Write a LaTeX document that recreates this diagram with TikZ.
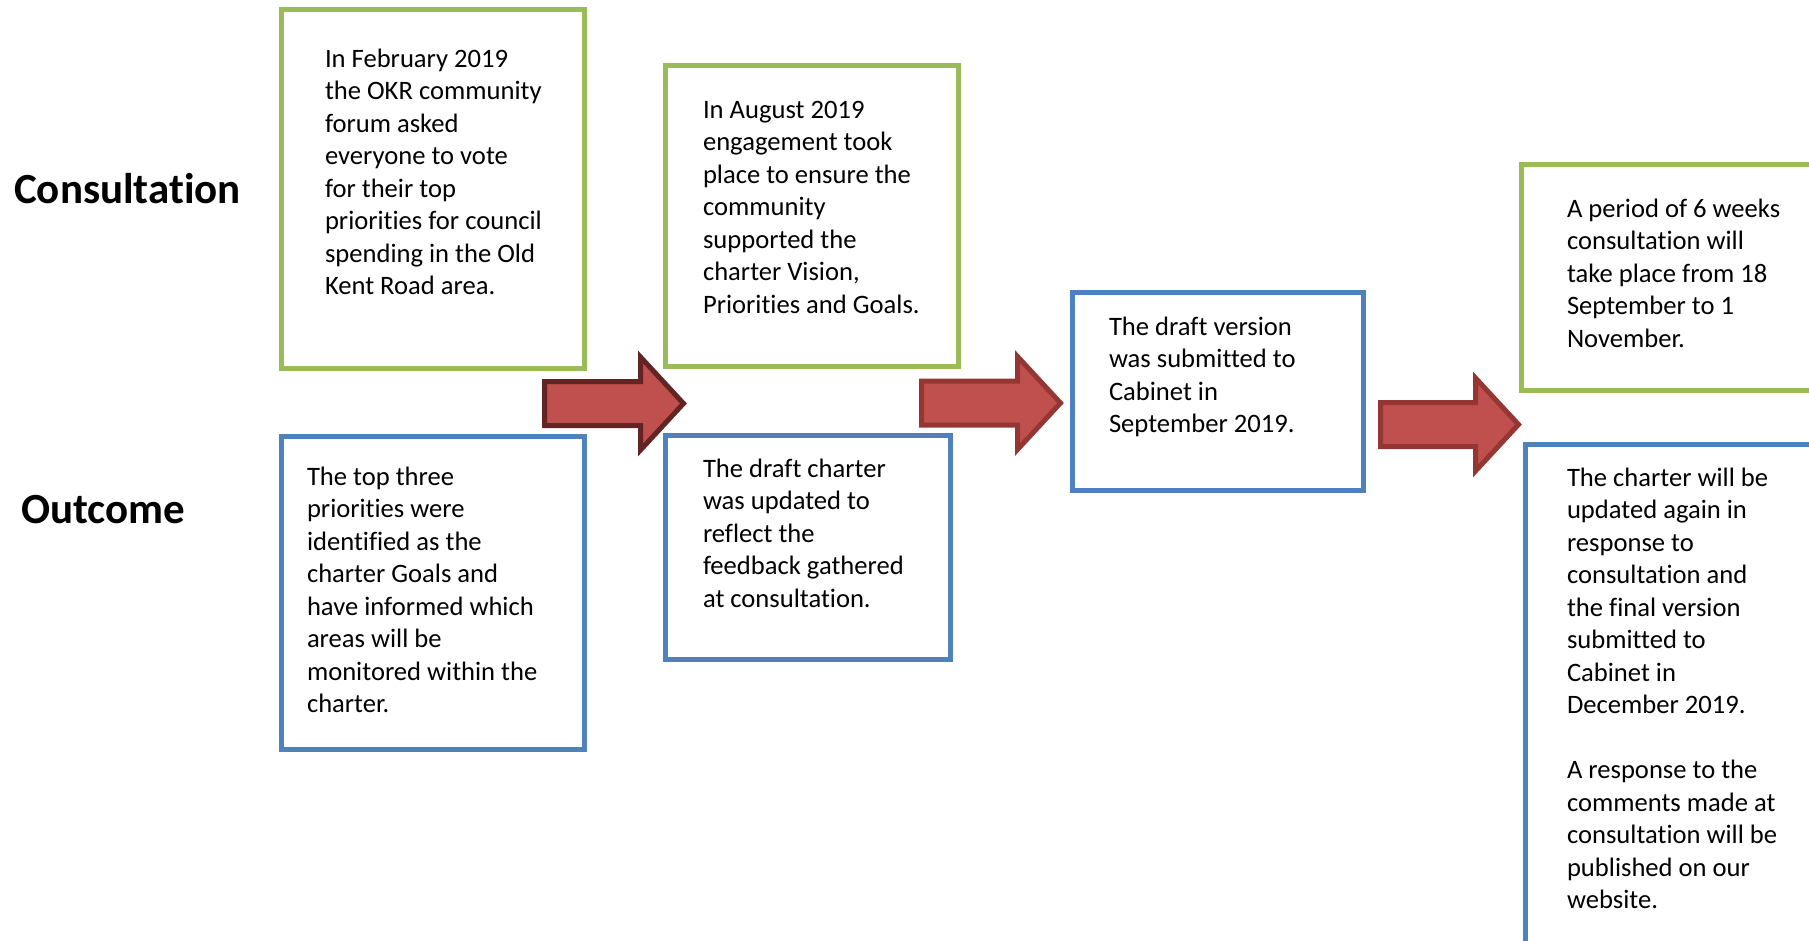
\documentclass[tikz,border=0pt]{standalone}
\usepackage{fontspec}
\setmainfont[Ligatures=NoCommon,RawFeature={-liga;-clig;-calt}]{Carlito}
\usetikzlibrary{fit}
\definecolor{okgreen}{HTML}{9BBB59}
\definecolor{okblue}{HTML}{4F81BD}
\definecolor{arrfill}{HTML}{C0504D}
\definecolor{arrdark}{HTML}{632523}
\definecolor{arrmid}{HTML}{943634}
\newcommand\bodyfont{\fontsize{26.6}{32.5}\selectfont}
\newcommand\boxtext[1]{\parbox[t]{330pt}{\bodyfont\raggedright #1}}
\tikzset{
  gbox/.style={draw=okgreen, line width=5pt, inner sep=0pt, rectangle},
  bbox/.style={draw=okblue, line width=5pt, inner sep=0pt, rectangle},
  txt/.style={anchor=base west, inner sep=0pt, outer sep=0pt},
  heading/.style={anchor=base west, inner sep=0pt, font=\fontsize{43}{50}\selectfont\bfseries},
  blockarrow/.style={fill=arrfill, line width=5pt, line join=miter},
}
\begin{document}
\begin{tikzpicture}[x=1pt,y=-1pt]
\useasboundingbox (0,0) rectangle (1809,940);
\fill[white] (0,0) rectangle (1809,940);

% headings
\node[heading] (hcons) at (14,203) {Consultation};
\node[heading] (hout) at (21,523) {Outcome};

% boxes
\node[gbox, fit={(281.5,9.5) (584.5,368.5)}] (b1) {};
\node[bbox, fit={(281.5,436.5) (584.5,749.5)}] (b2) {};
\node[gbox, fit={(665.5,65.5) (958.5,366.5)}] (b3) {};
\node[bbox, fit={(665.5,435.5) (950.5,659.5)}] (b4) {};
\node[bbox, fit={(1072.5,292.5) (1363.5,490.5)}] (b5) {};
\node[gbox, fit={(1521.5,164.5) (1840,390.5)}] (b6) {};
\node[bbox, fit={(1525.5,444.5) (1840,980)}] (b7) {};

% texts
\node[txt] (t1) at (325,67) {\boxtext{In February 2019\\ the OKR community\\ forum asked\\ everyone to vote\\ for their top\\ priorities for council\\ spending in the Old\\ Kent Road area.}};
\node[txt] (t2) at (307,485) {\boxtext{The top three\\ priorities were\\ identified as the\\ charter Goals and\\ have informed which\\ areas will be\\ monitored within the\\ charter.}};
\node[txt] (t3) at (703,118) {\boxtext{In August 2019\\ engagement took\\ place to ensure the\\ community\\ supported the\\ charter Vision,\\ Priorities and Goals.}};
\node[txt] (t4) at (703,477) {\boxtext{The draft charter\\ was updated to\\ reflect the\\ feedback gathered\\ at consultation.}};
\node[txt] (t5) at (1109,335) {\boxtext{The draft version\\ was submitted to\\ Cabinet in\\ September 2019.}};
\node[txt] (t6) at (1567,217) {\boxtext{A period of 6 weeks\\ consultation will\\ take place from 18\\ September to 1\\ November.}};
\node[txt] (t7) at (1567,486) {\boxtext{The charter will be\\ updated again in\\ response to\\ consultation and\\ the final version\\ submitted to\\ Cabinet in\\ December 2019.\\[32.5pt] A response to the\\ comments made at\\ consultation will be\\ published on our\\ website.}};

% block arrows
\begin{scope}[shift={(544.5,403.5)}]
  \draw[blockarrow, draw=arrdark] (0,-22) -- (96,-22) -- (96,-46.5) -- (139,0) -- (96,46.5) -- (96,22) -- (0,22) -- cycle;
\end{scope}
\begin{scope}[shift={(921.5,403)}]
  \draw[blockarrow, draw=arrmid] (0,-22) -- (96,-22) -- (96,-46.5) -- (139,0) -- (96,46.5) -- (96,22) -- (0,22) -- cycle;
\end{scope}
\begin{scope}[shift={(1380.5,424.5)}]
  \draw[blockarrow, draw=arrmid] (0,-22) -- (95,-22) -- (95,-46.5) -- (138,0) -- (95,46.5) -- (95,22) -- (0,22) -- cycle;
\end{scope}
\end{tikzpicture}
\end{document}
